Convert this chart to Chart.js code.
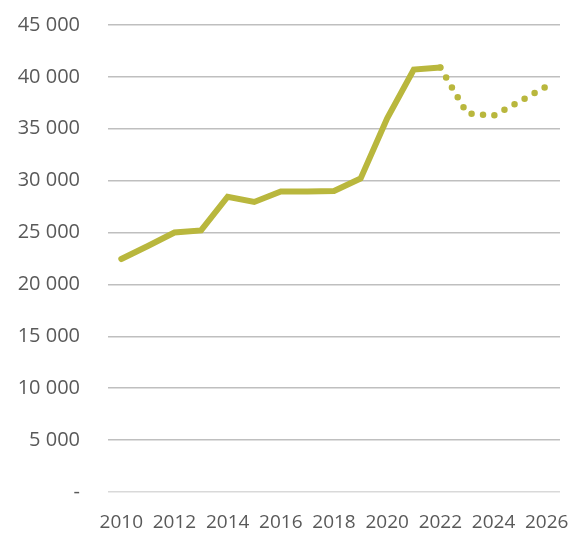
<!DOCTYPE html>
<html>
<head>
<meta charset="utf-8">
<script src="https://cdn.jsdelivr.net/npm/chart.js@4"></script>
<style>
html,body{margin:0;padding:0;background:#fff;}
#wrap{width:572px;height:533px;position:relative;}
</style>
</head>
<body>
<div id="wrap"><canvas id="c" width="572" height="533"></canvas></div>
<script>
const years = ['2010','2011','2012','2013','2014','2015','2016','2017','2018','2019','2020','2021','2022','2023','2024','2025','2026'];
const actual = [22450, 23700, 25000, 25200, 28450, 27950, 28950, 28950, 29000, 30200, 36000, 40700, 40900, null, null, null, null];
const forecast = [null, null, null, null, null, null, null, null, null, null, null, null, 40900, 36500, 36250, 37650, 39100];
const yTicks = [0, 5000, 10000, 15000, 20000, 25000, 30000, 35000, 40000, 45000];

const lineColor = '#B9B73D';
const textColor = '#595959';
const fontFamily = '"Open Sans", sans-serif';

function fmt(v){
  if (v === 0) return '-';
  return String(v).replace(/\B(?=(\d{3})+(?!\d))/g, ' ');
}

new Chart(document.getElementById('c'), {
  type: 'line',
  data: {
    labels: years,
    datasets: [
      {
        data: actual,
        borderColor: lineColor,
        borderWidth: 6,
        pointRadius: 0,
        borderCapStyle: 'round',
        borderJoinStyle: 'miter',
        tension: 0,
        spanGaps: false
      },
      {
        data: forecast,
        borderColor: lineColor,
        borderWidth: 6.5,
        borderDash: [0, 11.5],
        borderCapStyle: 'round',
        pointRadius: 0,
        tension: 0,
        spanGaps: false
      }
    ]
  },
  options: {
    responsive: false,
    animation: false,
    devicePixelRatio: 1,
    layout: { padding: { top: 25, right: 12, left: 0, bottom: 0 } },
    plugins: { legend: { display: false }, tooltip: { enabled: false } },
    scales: {
      x: {
        type: 'category',
        offset: true,
        grid: { display: false, drawTicks: false },
        border: { display: false },
        ticks: {
          autoSkip: false,
          maxRotation: 0,
          padding: 19,
          color: textColor,
          font: { family: fontFamily, size: 19 },
          callback: function(val, idx){
            const y = years[idx];
            return (parseInt(y) % 2 === 0) ? y : '';
          }
        },
        afterFit: function(s){ s.height = 41; s.paddingLeft = 0; s.paddingRight = 0; }
      },
      y: {
        min: 0,
        max: 45000,
        afterBuildTicks: function(s){ s.ticks = yTicks.map(v => ({ value: v })); },
        grid: {
          drawTicks: false,
          color: function(ctx){ return ctx.tick && ctx.tick.value === 0 ? '#D9D9D9' : '#BFBFBF'; },
          lineWidth: 1.5
        },
        border: { display: false },
        ticks: {
          padding: 28,
          color: textColor,
          font: { family: fontFamily, size: 20 },
          callback: function(v){ return fmt(v); }
        },
        afterFit: function(s){ s.width = 108; s.paddingTop = 0; s.paddingBottom = 0; }
      }
    }
  }
});
</script>
</body>
</html>
